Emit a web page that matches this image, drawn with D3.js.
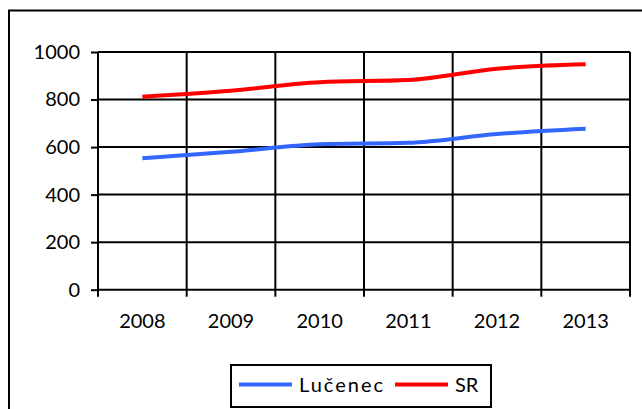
<!DOCTYPE html>
<html>
<head>
<meta charset="utf-8">
<script src="https://d3js.org/d3.v7.min.js"></script>
<style>
  body { margin: 0; background: #fff; }
  svg text { font-family: Lato, "Open Sans", sans-serif; font-weight: 400; fill: #000; }
</style>
</head>
<body>
<div id="chart"></div>
<script>
// data
const years = ["2008", "2009", "2010", "2011", "2012", "2013"];
const lucenec = [553, 580, 612, 618, 655, 677];
const sr = [812, 837, 873, 882, 930, 948];
const yTicks = [0, 200, 400, 600, 800, 1000];

const w = 642, h = 409;
const plotL = 98, plotR = 630, plotT = 52, plotB = 289.7;

const svg = d3.select("#chart").append("svg")
  .attr("width", w)
  .attr("height", h);

// outer frame
svg.append("rect")
  .attr("x", 9).attr("y", 10.5)
  .attr("width", 640).attr("height", 410)
  .attr("fill", "none").attr("stroke", "#000").attr("stroke-width", 2);

const x = d3.scaleBand().domain(years).range([plotL, plotR]);
const y = d3.scaleLinear().domain([0, 1000]).range([plotB, plotT]);

// horizontal grid + y axis
const yAxis = svg.append("g")
  .attr("transform", `translate(${plotL},0)`)
  .call(d3.axisLeft(y).tickValues(yTicks).tickFormat(d3.format("d")).tickSize(7).tickPadding(11));
yAxis.select(".domain").remove();
yAxis.selectAll("text").style("font-size", "20px").attr("font-family", null);

svg.append("g").selectAll("line")
  .data(yTicks)
  .enter().append("line")
  .attr("x1", plotL).attr("x2", plotR)
  .attr("y1", d => y(d)).attr("y2", d => y(d))
  .attr("stroke", "#000").attr("stroke-width", 2);

// vertical grid at category boundaries
const bounds = years.map(d => x(d)).concat([plotR]);
svg.append("g").selectAll("line")
  .data(bounds)
  .enter().append("line")
  .attr("x1", d => d).attr("x2", d => d)
  .attr("y1", plotT).attr("y2", plotB + 7)
  .attr("stroke", "#000").attr("stroke-width", 2);

svg.selectAll(".tick line").attr("stroke", "#000").attr("stroke-width", 2);

// x labels
svg.append("g").selectAll("text")
  .data(years)
  .enter().append("text")
  .attr("x", d => x(d) + x.bandwidth() / 2)
  .attr("y", 328)
  .attr("text-anchor", "middle")
  .style("font-size", "20px")
  .text(d => d);

// lines
const line = d3.line()
  .x((d, i) => x(years[i]) + x.bandwidth() / 2)
  .y(d => y(d))
  .curve(d3.curveMonotoneX);

const series = [
  { name: "Lučenec", values: lucenec, color: "#3366ff" },
  { name: "SR", values: sr, color: "#ff0000" }
];

svg.append("g").selectAll("path")
  .data(series)
  .enter().append("path")
  .attr("d", d => line(d.values))
  .attr("fill", "none")
  .attr("stroke", d => d.color)
  .attr("stroke-width", 4);

// legend
const lg = svg.append("g");
lg.append("rect")
  .attr("x", 231).attr("y", 365)
  .attr("width", 260).attr("height", 42)
  .attr("fill", "#fff").attr("stroke", "#000").attr("stroke-width", 2);

const legendX = [239, 395];
series.forEach((s, i) => {
  lg.append("line")
    .attr("x1", legendX[i]).attr("x2", legendX[i] + 53)
    .attr("y1", 384.5).attr("y2", 384.5)
    .attr("stroke", s.color).attr("stroke-width", 4);
  lg.append("text")
    .attr("x", legendX[i] + 60)
    .attr("y", 392)
    .style("font-size", "20px")
    .style("letter-spacing", i === 0 ? "2px" : "0px")
    .text(s.name);
});
</script>
</body>
</html>
